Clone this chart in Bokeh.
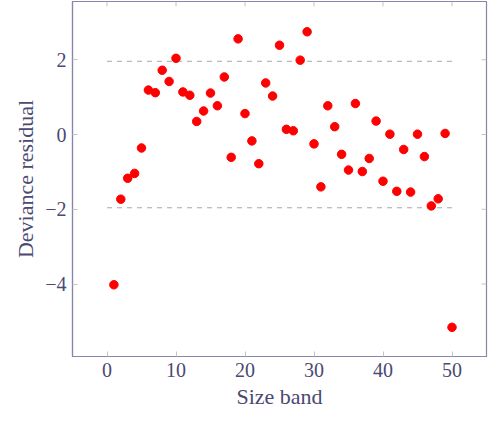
import math
from bokeh.plotting import figure
from bokeh.models import Range1d, FixedTicker
from bokeh.embed import file_html
from bokeh.resources import INLINE

size_band = list(range(1, 51))
deviance = [-4.02, -1.73, -1.17, -1.04, -0.36, 1.19, 1.12, 1.72, 1.42, 2.04,
            1.14, 1.05, 0.35, 0.63, 1.11, 0.77, 1.54, -0.61, 2.56, 0.56,
            -0.17, -0.78, 1.38, 1.03, 2.39, 0.14, 0.10, 1.99, 2.75, -0.25,
            -1.40, 0.77, 0.21, -0.53, -0.95, 0.83, -0.99, -0.64, 0.36, -1.25,
            0.01, -1.52, -0.40, -1.54, 0.01, -0.59, -1.91, -1.72, 0.03, -5.16]
x_ticks = [0, 10, 20, 30, 40, 50]
y_ticks = [-4, -2, 0, 2]
band_lo, band_hi = 0, 50
crit = 1.96
x_lo, x_hi = -5, 55
y_lo, y_hi = -5.94, 3.56

FONT = "Liberation Serif"
TXT = "#4a4a72"
AX = "#8686a8"
TK = "#c4c4c4"

p = figure(width=488, height=411, output_backend="svg", toolbar_location=None,
           x_range=Range1d(x_lo, x_hi), y_range=Range1d(y_lo, y_hi),
           min_border_left=72, min_border_right=2, min_border_top=1,
           min_border_bottom=50)
p.grid.visible = False
p.outline_line_color = AX
p.outline_line_width = 1.2

for y0 in (crit, -crit):
    p.line([band_lo, band_hi], [y0, y0], line_color="#a8a8a8", line_dash="5 5",
           line_width=1)

# mirrored inward ticks on top and right
p.ray(x=x_ticks, y=[y_hi] * len(x_ticks), length=5, length_units="screen",
      angle=-math.pi / 2, line_color=TK, line_width=1)
p.ray(x=[x_hi] * len(y_ticks), y=y_ticks, length=5, length_units="screen",
      angle=math.pi, line_color=TK, line_width=1)

p.scatter(size_band, deviance, size=8.5, fill_color="#ff0000", line_color="#ff0000")

for ax in (p.xaxis[0], p.yaxis[0]):
    ax.axis_line_color = AX
    ax.axis_line_width = 1.2
    ax.major_tick_in = 5
    ax.major_tick_out = 0
    ax.major_tick_line_color = TK
    ax.minor_tick_line_color = None
    ax.major_label_text_font = FONT
    ax.major_label_text_font_size = "20px"
    ax.major_label_text_color = TXT
    ax.axis_label_text_font = FONT
    ax.axis_label_text_font_size = "22px"
    ax.axis_label_text_font_style = "normal"
    ax.axis_label_text_color = TXT
    ax.major_label_standoff = 6
    ax.axis_label_standoff = 4

p.xaxis.ticker = FixedTicker(ticks=x_ticks)
p.yaxis.ticker = FixedTicker(ticks=y_ticks)
p.xaxis.axis_label = "Size band"
p.yaxis.axis_label = "Deviance residual"
p.yaxis.major_label_overrides = {-4: "\u22124", -2: "\u22122"}

open("out.html", "w").write(file_html(p, INLINE))
